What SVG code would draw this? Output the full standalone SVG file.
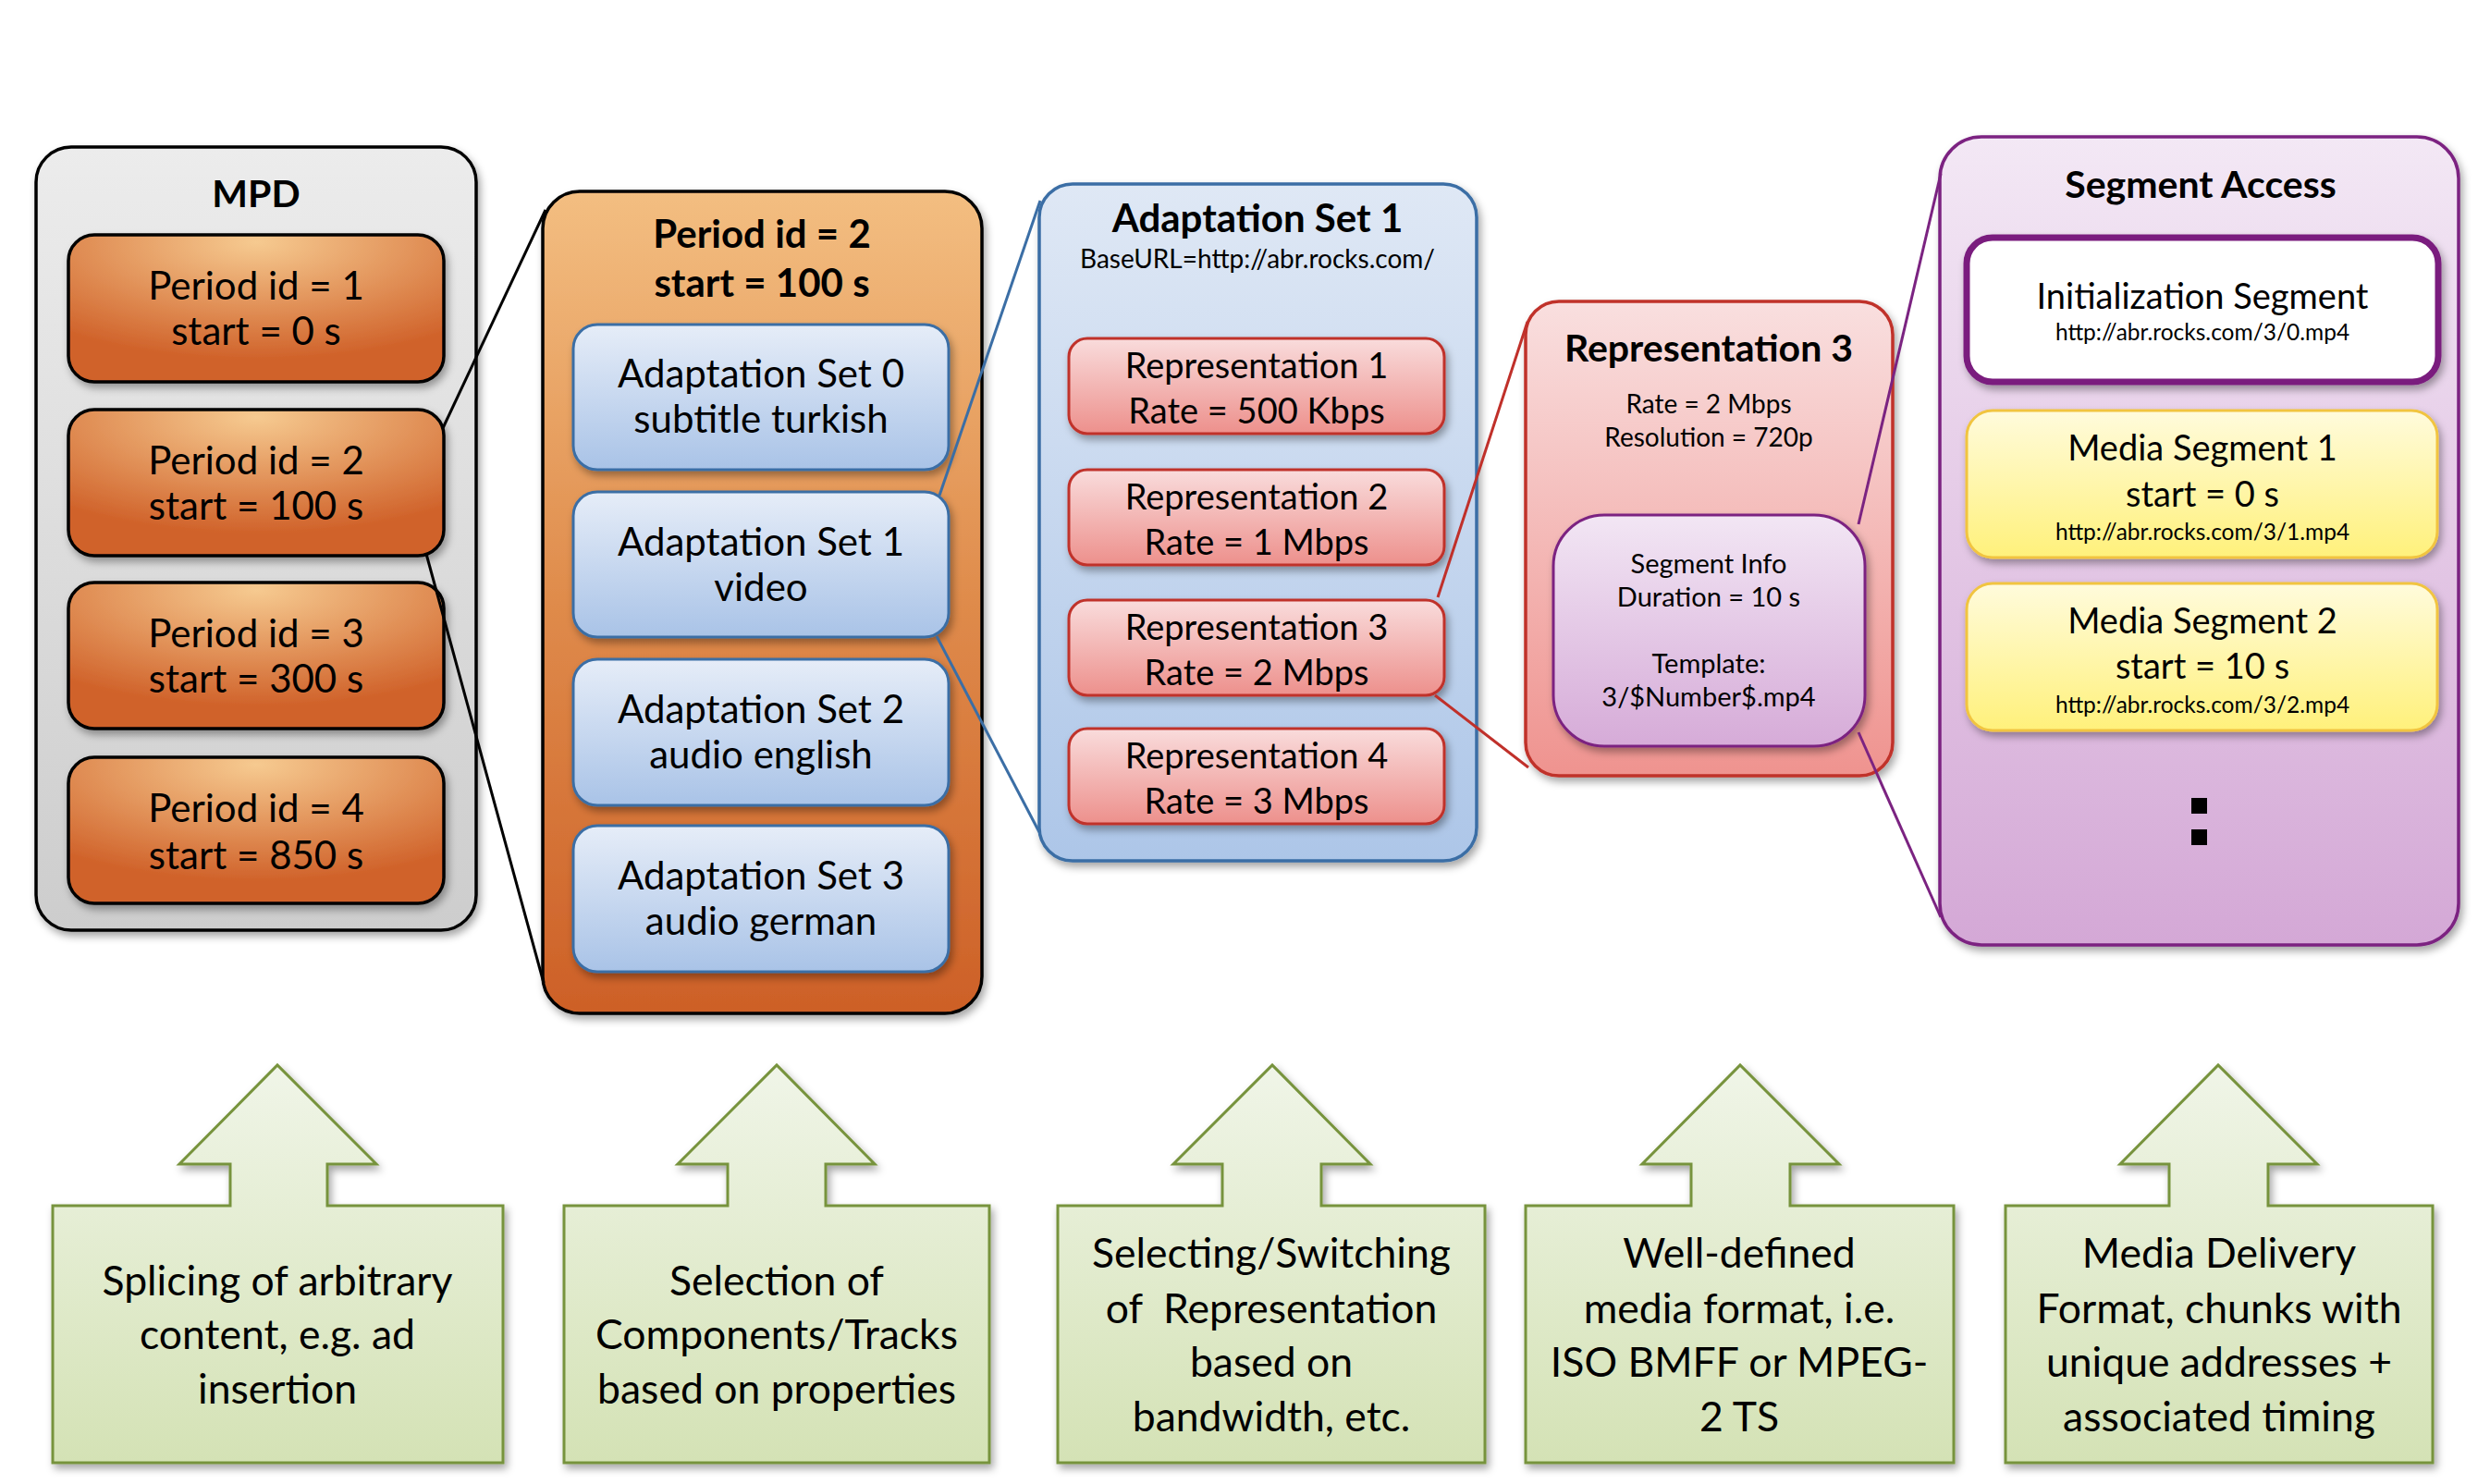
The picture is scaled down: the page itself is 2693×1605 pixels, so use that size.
<svg xmlns="http://www.w3.org/2000/svg" width="2693" height="1605" viewBox="0 0 2693 1605">
<style>
text{font-family:Lato,"Open Sans","Liberation Sans",sans-serif;fill:#000;text-anchor:middle}
.b{font-weight:bold}
.t42{font-size:42px}
.t41{font-size:41px}
.t38{font-size:38px}
.t29{font-size:29px}
.t28{font-size:28px}
.t25{font-size:24.5px}
.t45{font-size:44.5px}
.blk{stroke:#000;stroke-width:3.5}
.asb{fill:url(#gAs);stroke:#3b6ea5;stroke-width:3}
.rep{fill:url(#gRep);stroke:#c0302a;stroke-width:3}
.med{fill:url(#gMed);stroke:#f1c440;stroke-width:3}
.call{fill:url(#gCall);stroke:#77933c;stroke-width:3}
.sh{filter:url(#sh)}
.cn{fill:none;stroke-width:3}
</style>
<defs>
<filter id="sh" x="-10%" y="-10%" width="120%" height="130%">
<feDropShadow dx="3" dy="5" stdDeviation="4" flood-color="#000" flood-opacity="0.35"/>
</filter>
<linearGradient id="gMpd" x1="0" y1="0" x2="0" y2="1"><stop offset="0" stop-color="#ececec"/><stop offset="1" stop-color="#cdcdcd"/></linearGradient>
<radialGradient id="gPer" cx="0.5" cy="0.05" r="0.8"><stop offset="0" stop-color="#f6ca90"/><stop offset="1" stop-color="#d0622a"/></radialGradient>
<linearGradient id="gBigPer" x1="0" y1="0" x2="0" y2="1"><stop offset="0" stop-color="#f3be81"/><stop offset="0.5" stop-color="#df8b4b"/><stop offset="1" stop-color="#cd6027"/></linearGradient>
<linearGradient id="gAs" x1="0" y1="0" x2="0" y2="1"><stop offset="0" stop-color="#e6edf8"/><stop offset="1" stop-color="#a9c3e7"/></linearGradient>
<linearGradient id="gAsBig" x1="0" y1="0" x2="0" y2="1"><stop offset="0" stop-color="#dfe8f5"/><stop offset="1" stop-color="#adc6e8"/></linearGradient>
<linearGradient id="gRep" x1="0" y1="0" x2="0" y2="1"><stop offset="0" stop-color="#f9dcdc"/><stop offset="1" stop-color="#ed908c"/></linearGradient>
<linearGradient id="gRepBig" x1="0" y1="0" x2="0" y2="1"><stop offset="0" stop-color="#f9dfdf"/><stop offset="1" stop-color="#ef938f"/></linearGradient>
<linearGradient id="gSi" x1="0" y1="0" x2="0" y2="1"><stop offset="0" stop-color="#f2e6f4"/><stop offset="1" stop-color="#d6abd8"/></linearGradient>
<linearGradient id="gSa" x1="0" y1="0" x2="0" y2="1"><stop offset="0" stop-color="#f3e8f5"/><stop offset="1" stop-color="#d4a8d6"/></linearGradient>
<linearGradient id="gMed" x1="0" y1="0" x2="0" y2="1"><stop offset="0" stop-color="#fffbdc"/><stop offset="1" stop-color="#fff17b"/></linearGradient>
<linearGradient id="gCall" x1="0" y1="0" x2="0" y2="1"><stop offset="0" stop-color="#f0f5e8"/><stop offset="1" stop-color="#d4e2b5"/></linearGradient>
</defs>

<g id="mpd">
<rect class="blk sh" x="39" y="159" width="476" height="847" rx="38" fill="url(#gMpd)"/>
<text class="b t41" x="277" y="224">MPD</text>
</g>
<g id="period1">
<rect class="blk sh" x="74" y="254" width="406" height="159" rx="28" fill="url(#gPer)"/>
<text class="t42" x="277" y="324">Period id = 1</text>
<text class="t42" x="277" y="373">start = 0 s</text>
</g>
<g id="period2">
<rect class="blk sh" x="74" y="443" width="406" height="158" rx="28" fill="url(#gPer)"/>
<text class="t42" x="277" y="513">Period id = 2</text>
<text class="t42" x="277" y="562">start = 100 s</text>
</g>
<g id="period3">
<rect class="blk sh" x="74" y="630" width="406" height="158" rx="28" fill="url(#gPer)"/>
<text class="t42" x="277" y="700">Period id = 3</text>
<text class="t42" x="277" y="749">start = 300 s</text>
</g>
<g id="period4">
<rect class="blk sh" x="74" y="819" width="406" height="158" rx="28" fill="url(#gPer)"/>
<text class="t42" x="277" y="889">Period id = 4</text>
<text class="t42" x="277" y="940">start = 850 s</text>
</g>

<g id="period-detail">
<rect class="blk sh" x="587" y="207" width="475" height="889" rx="40" fill="url(#gBigPer)"/>
<text class="b t42" x="824" y="268">Period id = 2</text>
<text class="b t42" x="824" y="321">start = 100 s</text>
</g>
<g id="as0">
<rect class="asb sh" x="620" y="351" width="406" height="157" rx="26"/>
<text class="t42" x="823" y="419">Adaptation Set 0</text>
<text class="t42" x="823" y="468">subtitle turkish</text>
</g>
<g id="as1">
<rect class="asb sh" x="620" y="532" width="406" height="157" rx="26"/>
<text class="t42" x="823" y="601">Adaptation Set 1</text>
<text class="t42" x="823" y="650">video</text>
</g>
<g id="as2">
<rect class="asb sh" x="620" y="713" width="406" height="158" rx="26"/>
<text class="t42" x="823" y="782">Adaptation Set 2</text>
<text class="t42" x="823" y="831">audio english</text>
</g>
<g id="as3">
<rect class="asb sh" x="620" y="893" width="406" height="158" rx="26"/>
<text class="t42" x="823" y="962">Adaptation Set 3</text>
<text class="t42" x="823" y="1011">audio german</text>
</g>

<g id="as1-detail">
<rect class="sh" x="1124" y="199" width="473" height="732" rx="36" fill="url(#gAsBig)" stroke="#3b6ea5" stroke-width="3.5"/>
<text class="b t42" x="1360" y="251">Adaptation Set 1</text>
<text class="t28" x="1360" y="290">BaseURL=http://abr.rocks.com/</text>
</g>
<g id="rep1">
<rect class="rep sh" x="1156" y="366" width="406" height="103" rx="20"/>
<text class="t38" x="1359" y="409">Representation 1</text>
<text class="t38" x="1359" y="458">Rate = 500 Kbps</text>
</g>
<g id="rep2">
<rect class="rep sh" x="1156" y="508" width="406" height="103" rx="20"/>
<text class="t38" x="1359" y="551">Representation 2</text>
<text class="t38" x="1359" y="600">Rate = 1 Mbps</text>
</g>
<g id="rep3">
<rect class="rep sh" x="1156" y="649" width="406" height="103" rx="20"/>
<text class="t38" x="1359" y="692">Representation 3</text>
<text class="t38" x="1359" y="741">Rate = 2 Mbps</text>
</g>
<g id="rep4">
<rect class="rep sh" x="1156" y="788" width="406" height="103" rx="20"/>
<text class="t38" x="1359" y="831">Representation 4</text>
<text class="t38" x="1359" y="880">Rate = 3 Mbps</text>
</g>

<g id="rep3-detail">
<rect class="sh" x="1650" y="326" width="397" height="513" rx="36" fill="url(#gRepBig)" stroke="#c0302a" stroke-width="3.5"/>
<text class="b t41" x="1848" y="391">Representation 3</text>
<text class="t28" x="1848" y="447">Rate = 2 Mbps</text>
<text class="t28" x="1848" y="483">Resolution = 720p</text>
</g>
<g id="segment-info">
<rect class="sh" x="1680" y="557" width="337" height="250" rx="55" fill="url(#gSi)" stroke="#7b2381" stroke-width="3"/>
<text class="t29" x="1848" y="620">Segment Info</text>
<text class="t29" x="1848" y="656">Duration = 10 s</text>
<text class="t29" x="1848" y="728">Template:</text>
<text class="t29" x="1848" y="764">3/$Number$.mp4</text>
</g>

<g id="segment-access">
<rect class="sh" x="2098" y="148" width="561" height="874" rx="45" fill="url(#gSa)" stroke="#7b2381" stroke-width="3.5"/>
<text class="b t41" x="2380" y="214">Segment Access</text>
<rect x="2370" y="863" width="17" height="17" fill="#000"/>
<rect x="2370" y="897" width="17" height="17" fill="#000"/>
</g>
<g id="init-segment">
<rect class="sh" x="2127" y="257" width="510" height="156" rx="28" fill="#fff" stroke="#7a1f7e" stroke-width="7"/>
<text class="t38" x="2382" y="334">Initialization Segment</text>
<text class="t25" x="2382" y="368">http://abr.rocks.com/3/0.mp4</text>
</g>
<g id="media-segment-1">
<rect class="med sh" x="2127" y="444" width="509" height="159" rx="28"/>
<text class="t38" x="2382" y="498">Media Segment 1</text>
<text class="t38" x="2382" y="548">start = 0 s</text>
<text class="t25" x="2382" y="584">http://abr.rocks.com/3/1.mp4</text>
</g>
<g id="media-segment-2">
<rect class="med sh" x="2127" y="631" width="509" height="159" rx="28"/>
<text class="t38" x="2382" y="685">Media Segment 2</text>
<text class="t38" x="2382" y="734">start = 10 s</text>
<text class="t25" x="2382" y="771">http://abr.rocks.com/3/2.mp4</text>
</g>

<g id="connectors">
<line class="cn" x1="479" y1="463" x2="590" y2="227" stroke="#000"/>
<line class="cn" x1="461" y1="599" x2="588" y2="1063" stroke="#000"/>
<line class="cn" x1="1016" y1="536" x2="1125" y2="217" stroke="#3b6ea5"/>
<line class="cn" x1="1013" y1="688" x2="1124" y2="900" stroke="#3b6ea5"/>
<line class="cn" x1="1555" y1="646" x2="1652" y2="348" stroke="#c0302a"/>
<line class="cn" x1="1552" y1="752" x2="1653" y2="830" stroke="#c0302a"/>
<line class="cn" x1="2010" y1="567" x2="2099" y2="188" stroke="#7b2381"/>
<line class="cn" x1="2010" y1="792" x2="2099" y2="992" stroke="#7b2381"/>
</g>

<g id="callout-splicing">
<path class="call sh" d="M57,1304 H249 V1259 H194 L300,1152 L407,1259 H354 V1304 H544 V1582 H57 Z"/>
<text class="t45" x="300" y="1401">Splicing of arbitrary</text>
<text class="t45" x="300" y="1459">content, e.g. ad</text>
<text class="t45" x="300" y="1518">insertion</text>
</g>
<g id="callout-selection">
<path class="call sh" d="M610,1304 H787 V1259 H733 L840,1152 L946,1259 H893 V1304 H1070 V1582 H610 Z"/>
<text class="t45" x="840" y="1401">Selection of</text>
<text class="t45" x="840" y="1459">Components/Tracks</text>
<text class="t45" x="840" y="1518">based on properties</text>
</g>
<g id="callout-switching">
<path class="call sh" d="M1144,1304 H1322 V1259 H1269 L1376,1152 L1482,1259 H1429 V1304 H1606 V1582 H1144 Z"/>
<text class="t45" x="1375" y="1371">Selecting/Switching</text>
<text class="t45" x="1375" y="1431" xml:space="preserve">of  Representation</text>
<text class="t45" x="1375" y="1489">based on</text>
<text class="t45" x="1375" y="1548">bandwidth, etc.</text>
</g>
<g id="callout-format">
<path class="call sh" d="M1650,1304 H1829 V1259 H1776 L1882,1152 L1989,1259 H1936 V1304 H2113 V1582 H1650 Z"/>
<text class="t45" x="1881" y="1371">Well-defined</text>
<text class="t45" x="1881" y="1431">media format, i.e.</text>
<text class="t45" x="1881" y="1489">ISO BMFF or MPEG-</text>
<text class="t45" x="1881" y="1548">2 TS</text>
</g>
<g id="callout-delivery">
<path class="call sh" d="M2169,1304 H2346 V1259 H2293 L2399,1152 L2506,1259 H2453 V1304 H2631 V1582 H2169 Z"/>
<text class="t45" x="2400" y="1371">Media Delivery</text>
<text class="t45" x="2400" y="1431">Format, chunks with</text>
<text class="t45" x="2400" y="1489">unique addresses +</text>
<text class="t45" x="2400" y="1548">associated timing</text>
</g>
</svg>
